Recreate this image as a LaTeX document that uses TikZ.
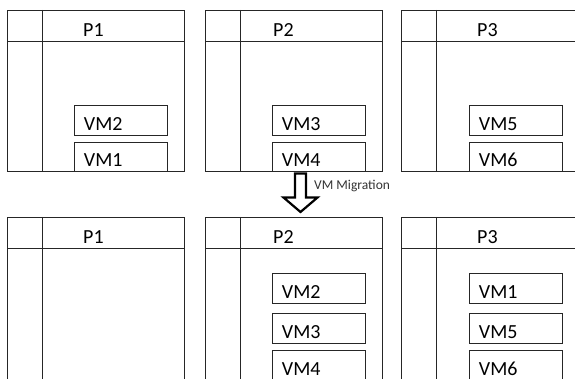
\documentclass[tikz,border=0pt]{standalone}
\usepackage{fontspec}
\setmainfont{Carlito}

\tikzset{
  ln/.style={draw=black!85, line width=0.9pt},
  pm/.style={ln, minimum width=177pt, inner sep=0pt, anchor=north west},
  vm/.style={ln, minimum width=93pt, minimum height=30pt, inner xsep=9.5pt, inner ysep=0pt,
    text width=74pt, align=left, text height=20pt, text depth=0pt,
    anchor=north west, font=\fontsize{20}{20}\selectfont},
  plab/.style={anchor=base west, inner sep=0pt, font=\fontsize{20}{20}\selectfont},
  miglab/.style={anchor=base west, inner sep=0pt, text=black!80, font=\fontsize{13.5}{13.5}\selectfont},
}

\begin{document}
\begin{tikzpicture}[x=1pt,y=-1pt]
  \useasboundingbox (0,0) rectangle (575,379);
  \clip (0,0) rectangle (575,379);
  % macchine fisiche prima e dopo
  \foreach \r/\y/\h in {a/10/161,b/217/180} {
    \foreach \n/\x/\dx in {1/7/76,2/205/68,3/401/76} {
      \node[pm, minimum height=\h pt] (p\r\n) at (\x,\y) {};
      \draw[ln] ([xshift=35.5pt]p\r\n.north west) -- ([xshift=35.5pt]p\r\n.south west);
      \draw[ln] ([yshift=-31.5pt]p\r\n.north west) -- ([yshift=-31.5pt]p\r\n.north east);
      \node[plab] (l\r\n) at (\x+\dx,\y+26.5) {P\n};
    }
  }
  % VM prima della migrazione
  \foreach \v/\x/\y/\h in {2/74/105/30,1/74/142/29,3/272/105/30,4/272/142/29,5/469/105/30,6/469/142/29} {
    \node[vm, minimum height=\h pt] (va\v) at (\x,\y) {VM\v};
  }
  % VM dopo la migrazione
  \foreach \v/\x/\y in {2/272/273,3/272/313,4/272/350,1/469/273,5/469/313,6/469/350} {
    \node[vm] (vb\v) at (\x,\y) {VM\v};
  }
  % freccia di migrazione
  \coordinate (mig) at (300.5,173.5);
  \draw[black, line width=2.2pt, line join=miter]
    (mig) ++(-5.5,0) -- ++(11,0) -- ++(0,24) -- ++(11.5,0) -- ++(-17,14.5)
    -- ++(-17,-14.5) -- ++(11.5,0) -- cycle;
  \node[miglab] (mlab) at (314,190) {VM Migration};
\end{tikzpicture}
\end{document}
